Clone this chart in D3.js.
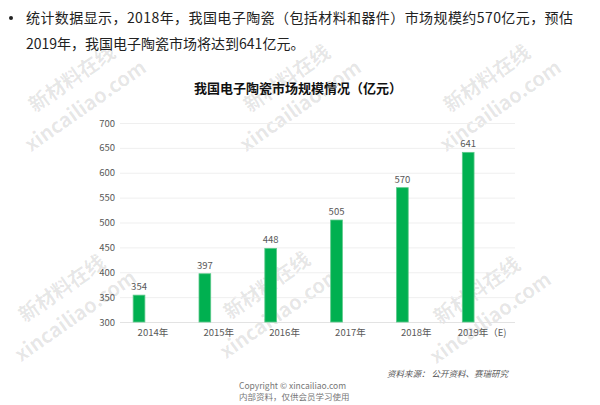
<!DOCTYPE html>
<html lang="zh">
<head>
<meta charset="utf-8">
<script src="https://cdn.jsdelivr.net/npm/d3@7"></script>
<style>
body { margin: 0; background: #fff; }
svg text { font-family: "Noto Sans CJK SC", "Noto Sans", sans-serif; }
.tick-label { font-size: 9.5px; fill: #595959; }
.wm { font-size: 20px; font-weight: bold; fill: #000; fill-opacity: 0.10; }
</style>
</head>
<body>
<div id="area1"></div>
<script>

// data
var years = ["2014年", "2015年", "2016年", "2017年", "2018年", "2019年（E)"];
var values = [354, 397, 448, 505, 570, 641];
var yTicks = [300, 350, 400, 450, 500, 550, 600, 650, 700];

var width = 600, height = 405;
var plot = {left: 120, right: 515, top: 123, bottom: 322};

var svg = d3.select("#area1").append("svg")
    .attr("width", width)
    .attr("height", height);

// watermarks
var wmPos = [[35, 113], [250, 113], [450, 113], [25, 323], [230, 320], [440, 325]];
var wm = svg.selectAll(".wmg")
    .data(wmPos)
  .enter().append("g")
    .attr("transform", function(d) { return "translate(" + d[0] + "," + d[1] + ") rotate(-35)"; });
wm.append("text").attr("class", "wm").text("新材料在线");
wm.append("text").attr("class", "wm").attr("x", -26).attr("y", 30).text("xincailiao.com");

// bullet paragraph
svg.append("circle")
    .attr("cx", 11).attr("cy", 18).attr("r", 2)
    .style("fill", "#222");
svg.append("text")
    .attr("x", 26).attr("y", 23)
    .attr("textLength", 547)
    .style("font-size", "14px").style("fill", "#222")
    .text("统计数据显示，2018年，我国电子陶瓷（包括材料和器件）市场规模约570亿元，预估");
svg.append("text")
    .attr("x", 26).attr("y", 49)
    .style("font-size", "14px").style("fill", "#222")
    .text("2019年，我国电子陶瓷市场将达到641亿元。");

// title
svg.append("text")
    .attr("x", 298).attr("y", 93)
    .attr("text-anchor", "middle")
    .style("font-size", "13px").style("font-weight", "bold").style("fill", "#111")
    .text("我国电子陶瓷市场规模情况（亿元）");

var x = d3.scaleBand().domain(years).range([plot.left, plot.right]).padding(0);
var y = d3.scaleLinear().domain([300, 700]).range([plot.bottom, plot.top]);

// gridlines
svg.selectAll(".grid")
    .data(yTicks)
  .enter().append("line")
    .attr("x1", plot.left).attr("x2", plot.right)
    .attr("y1", function(d) { return y(d) + 0.5; })
    .attr("y2", function(d) { return y(d) + 0.5; })
    .style("stroke", function(d) { return d === 300 ? "#e3e3e3" : "#efefef"; })
    .style("stroke-width", 1);

// y axis labels
var yAxis = svg.append("g")
    .attr("transform", "translate(" + plot.left + ",0)")
    .call(d3.axisLeft(y).tickValues(yTicks).tickSize(0).tickPadding(5));
yAxis.select(".domain").remove();
yAxis.selectAll("text").attr("class", "tick-label").attr("font-family", null).attr("font-size", null);

// x axis labels
var xAxis = svg.append("g")
    .attr("transform", "translate(0," + plot.bottom + ")")
    .call(d3.axisBottom(x).tickSize(0).tickPadding(7));
xAxis.select(".domain").remove();
xAxis.selectAll("text").attr("class", "tick-label").attr("font-family", null).attr("font-size", null);

// bars
var bw = x.bandwidth();
svg.selectAll(".bar")
    .data(values)
  .enter().append("rect")
    .attr("class", "bar")
    .attr("x", function(d, i) { return x(years[i]) + bw * 0.2; })
    .attr("y", function(d) { return y(d); })
    .attr("width", bw * 0.178)
    .attr("height", function(d) { return y(300) - y(d); })
    .style("fill", "#00b050")
    .style("stroke", "#5cc98a")
    .style("stroke-width", 0.8);

// value labels
svg.selectAll(".vlabel")
    .data(values)
  .enter().append("text")
    .attr("class", "tick-label")
    .attr("x", function(d, i) { return x(years[i]) + bw * 0.2 + bw * 0.089; })
    .attr("y", function(d) { return y(d) - 5; })
    .attr("text-anchor", "middle")
    .text(String);

// source + copyright
svg.append("text")
    .attr("x", 508).attr("y", 377)
    .attr("text-anchor", "end")
    .style("font-size", "8.5px").style("font-style", "italic").style("fill", "#555")
    .text("资料来源：  公开资料、赛瑞研究");
svg.append("text")
    .attr("x", 239).attr("y", 389)
    .style("font-size", "8.5px").style("fill", "#777")
    .text("Copyright © xincailiao.com");
svg.append("text")
    .attr("x", 239).attr("y", 400)
    .style("font-size", "8.5px").style("fill", "#777")
    .text("内部资料，仅供会员学习使用");

</script>
</body>
</html>
